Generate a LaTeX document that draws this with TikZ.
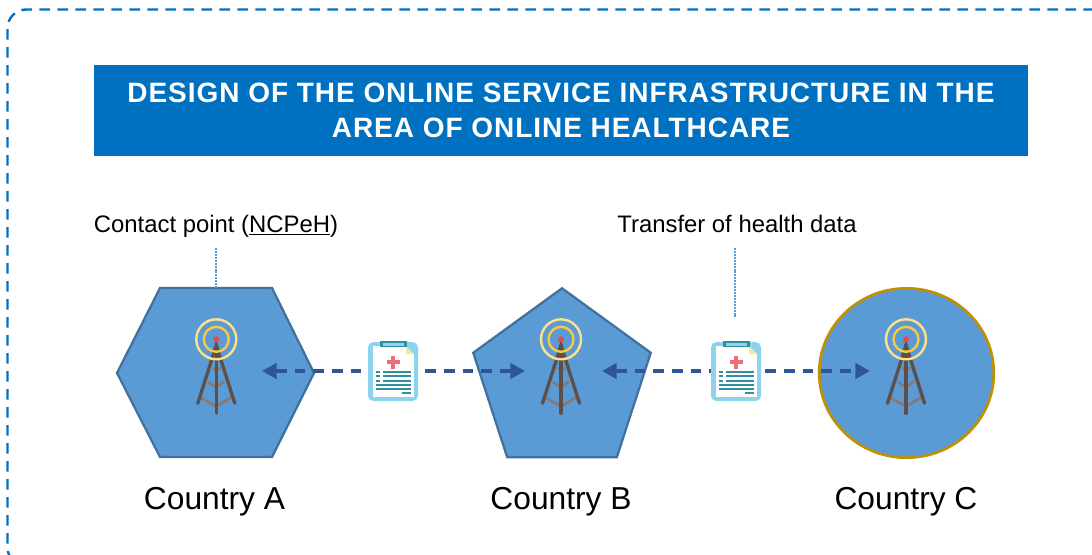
\documentclass[tikz,border=0pt]{standalone}
\usepackage{fontspec}
\setmainfont{Liberation Sans}
\newfontfamily\titlefont[LetterSpace=3.4]{Liberation Sans}
\usetikzlibrary{shapes.geometric,arrows.meta}

\definecolor{frameblue}{HTML}{0070C0}
\definecolor{shapeblue}{HTML}{5B9BD5}
\definecolor{shapeedge}{HTML}{41719C}
\definecolor{shapegold}{HTML}{BF9000}
\definecolor{linkblue}{HTML}{2F5597}
\definecolor{towerdark}{HTML}{5D4F4B}
\definecolor{towerlight}{HTML}{8A7872}
\definecolor{docblue}{HTML}{8DD3EC}
\definecolor{docteal}{HTML}{2F8F9D}

\tikzset{
    country/.style = {font=\fontsize{23.8}{28}\selectfont, anchor=base},
    caption/.style = {font=\fontsize{17.9}{21}\selectfont, anchor=base},
    leader/.style = {shapeblue, line width=0.8pt, dash pattern=on 1.5pt off 0.7pt},
    arrowlink/.style = {<->, linkblue, line width=2.5pt, dash pattern=on 8pt off 6pt},
    tower/.pic = {
        \draw[towerlight, line width=2pt] (-16.5,58) -- (0,67) -- (17,57);
        \draw[towerlight, line width=2pt] (-8,43) -- (0,48) -- (8,42);
        \draw[towerlight, line width=2pt] (-3,28) -- (0,32) -- (4,28);
        \draw[towerdark, line width=2.5pt, line cap=round] (-18.5,64) -- (0,6) -- (18.5,64);
        \draw[towerdark, line width=2.5pt, line cap=round] (0,6) -- (0,74);
        \draw[color={rgb,255:red,255;green,224;blue,138}, line width=1.8pt] (0,0) circle (20);
        \draw[color={rgb,255:red,249;green,201;blue,64}, line width=1.8pt] (0,0) circle (12.5);
        \fill[color={rgb,255:red,239;green,68;blue,68}] (0,0) circle (3);
    },
    clipboard/.pic = {
        \fill[docblue, rounded corners=4pt] (-25,-29) rectangle (25,30);
        \fill[white] (-20,-25) rectangle (21,26);
        \fill[docblue] (13,-25) -- (21,-25) -- (21,-17) -- cycle;
        \fill[color={rgb,255:red,251;green,227;blue,160}] (13,-24) -- (13,-17) -- (21,-17) -- cycle;
        \fill[docteal] (-13,-30) rectangle (14,-24);
        \fill[docblue] (-10,-28.5) rectangle (11,-25.5);
        \fill[color={rgb,255:red,238;green,110;blue,119}] (-6.5,-11) rectangle (6.5,-7);
        \fill[color={rgb,255:red,238;green,110;blue,119}] (-2,-15.5) rectangle (2,-2.5);
        \foreach \rowy in {1.3,5.3,9.7,13.7,17.7} {
            \draw[docteal, line width=1.5pt] (-17.5,\rowy) -- (18,\rowy);
        }
        \foreach \rowy in {1.3,5.3,9.7} {
            \fill[white] (-13,\rowy-1.5) rectangle (-10.5,\rowy+1.5);
        }
        \draw[docteal, line width=1.5pt] (9,21.8) -- (18,21.8);
    }
}

\begin{document}
\begin{tikzpicture}[
    x = 0.75pt,
    y = -0.75pt,
    > = {Triangle[length=11pt, width=11.5pt]}
]
\useasboundingbox[clip] (0,0) rectangle (1092,554);

% Frame
\draw[frameblue, line width=1.8pt, dash pattern=on 8pt off 5.5pt, rounded corners=14pt]
    (1130,9.5) -- (7.5,9.5) -- (7.5,566) -- (1130,566);

% Title
\node[fill=frameblue, text=white, font=\titlefont\bfseries\fontsize{21}{26.25}\selectfont, align=center,
    minimum width=700.5pt, minimum height=68.25pt, inner sep=0pt]
    (title) at (561,110.5) {DESIGN OF THE ONLINE SERVICE INFRASTRUCTURE IN THE\\AREA OF ONLINE HEALTHCARE};

% Countries
\draw[fill=shapeblue, draw=shapeedge, line width=1.7pt]
    (117,373) -- (160,288) -- (272,288) -- (314,373) -- (272,457) -- (160,457) -- cycle;
\coordinate (hexTop) at (216,288);
\node[regular polygon, regular polygon sides=5, fill=shapeblue, draw=shapeedge, line width=1.7pt,
    minimum size=140pt, inner sep=0pt] (pentB) at (562,381.6) {};
\node[ellipse, fill=shapeblue, draw=shapegold, line width=2pt,
    minimum width=131pt, minimum height=127pt, inner sep=0pt] (ellC) at (906.5,373) {};

\node[country] (nameA) at (214.5,509) {Country A};
\node[country] (nameB) at (561,509) {Country B};
\node[country] (nameC) at (906,509) {Country C};

% Captions
\node[caption] (contact) at (216,232) {Contact point (\underline{NCPeH})};
\node[caption] (transfer) at (737,232) {Transfer of health data};
\coordinate (contactEnd) at (216,248);
\coordinate (transferEnd) at (735,248);
\coordinate (transferTip) at (735,318);
\draw[leader] (contactEnd) -- (hexTop);
\draw[leader] (transferEnd) -- (transferTip);

% Links
\coordinate (linkAw) at (262,371);
\coordinate (linkAe) at (525,371);
\coordinate (linkBw) at (602,371);
\coordinate (linkBe) at (870,371);
\draw[arrowlink] (linkAw) -- (linkAe);
\draw[arrowlink] (linkBw) -- (linkBe);

% Icons
\pic at (216.3,339.3) {tower};
\pic at (561,339.3) {tower};
\pic at (906,339.3) {tower};
\pic at (393,371) {clipboard};
\pic at (736,371) {clipboard};

\end{tikzpicture}
\end{document}
